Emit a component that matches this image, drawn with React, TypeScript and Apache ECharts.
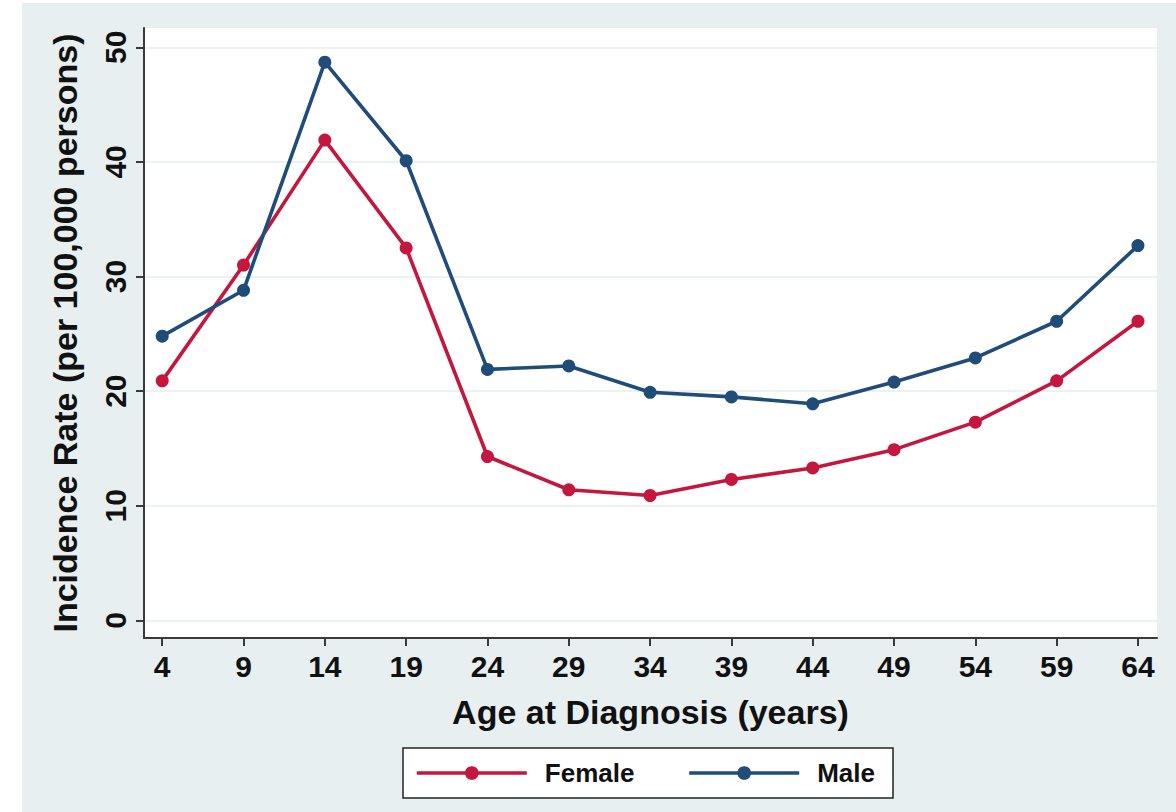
import React, { useEffect, useRef } from "react";
import * as echarts from "echarts";

const ages = [4, 9, 14, 19, 24, 29, 34, 39, 44, 49, 54, 59, 64];
const female = [20.9, 31.0, 41.9, 32.5, 14.3, 11.4, 10.9, 12.3, 13.3, 14.9, 17.3, 20.9, 26.1];
const male = [24.8, 28.8, 48.7, 40.1, 21.9, 22.2, 19.9, 19.5, 18.9, 20.8, 22.9, 26.1, 32.7];
const yTicks = [0, 10, 20, 30, 40, 50];

const RED = "#c5163d";
const BLUE = "#1f4c78";
const FONT = "'Liberation Sans', Arial, Helvetica, sans-serif";

export default function App() {
  const ref = useRef<HTMLDivElement>(null);
  useEffect(() => {
    if (!ref.current) return;
    const chart = echarts.init(ref.current, null, { renderer: "svg" });
    const axisLineStyle = { color: "#3a3a3a", width: 2 };
    chart.setOption({
      animation: false,
      backgroundColor: "#e7eff1",
      textStyle: { fontFamily: FONT },
      grid: {
        left: 122,
        top: 25,
        right: 19,
        bottom: 174,
        show: true,
        backgroundColor: "#ffffff",
        borderWidth: 0,
      },
      legend: {
        left: 381,
        top: 745,
        orient: "horizontal",
        backgroundColor: "#ffffff",
        borderColor: "#222",
        borderWidth: 1.5,
        borderRadius: 0,
        padding: [12, 18, 12, 12],
        itemWidth: 110,
        itemHeight: 17,
        itemGap: 53,
        lineStyle: { width: 3.6 },
        textStyle: {
          fontFamily: FONT,
          fontSize: 26,
          fontWeight: "bold",
          color: "#111",
          padding: [0, 0, 0, 13],
        },
        data: ["Female", "Male"],
      },
      xAxis: {
        type: "value",
        min: 2.88,
        max: 65.17,
        name: "Age at Diagnosis (years)",
        nameLocation: "middle",
        nameGap: 57,
        nameTextStyle: { fontFamily: FONT, fontSize: 34, fontWeight: "bold", color: "#111" },
        axisLine: { show: true, onZero: false, lineStyle: axisLineStyle },
        axisTick: { show: true, length: 8, customValues: ages, lineStyle: axisLineStyle },
        axisLabel: {
          customValues: ages,
          fontFamily: FONT,
          fontSize: 30,
          fontWeight: "bold",
          color: "#111",
          margin: 13,
        },
        splitLine: { show: false },
      },
      yAxis: {
        type: "value",
        min: -1.53,
        max: 51.68,
        name: "Incidence Rate (per 100,000 persons)",
        nameLocation: "middle",
        nameGap: 62,
        nameTextStyle: { fontFamily: FONT, fontSize: 34, fontWeight: "bold", color: "#111" },
        axisLine: { show: true, onZero: false, lineStyle: axisLineStyle },
        axisTick: { show: true, length: 8, customValues: yTicks, lineStyle: axisLineStyle },
        axisLabel: {
          customValues: yTicks,
          rotate: 90,
          fontFamily: FONT,
          fontSize: 30,
          fontWeight: "bold",
          color: "#111",
          margin: 14,
        },
        splitLine: { show: true, lineStyle: { color: "#e6eded", width: 1.5 } },
      },
      series: [
        {
          name: "Female",
          type: "line",
          data: ages.map((a, i) => [a, female[i]]),
          symbol: "circle",
          symbolSize: 13,
          lineStyle: { color: RED, width: 3.6 },
          itemStyle: { color: RED },
          z: 3,
        },
        {
          name: "Male",
          type: "line",
          data: ages.map((a, i) => [a, male[i]]),
          symbol: "circle",
          symbolSize: 13,
          lineStyle: { color: BLUE, width: 3.6 },
          itemStyle: { color: BLUE },
          z: 4,
        },
      ],
    });
    return () => chart.dispose();
  }, []);
  return (
    <div
      ref={ref}
      style={{ position: "absolute", left: 22, top: 3, width: 1154, height: 809 }}
    />
  );
}
